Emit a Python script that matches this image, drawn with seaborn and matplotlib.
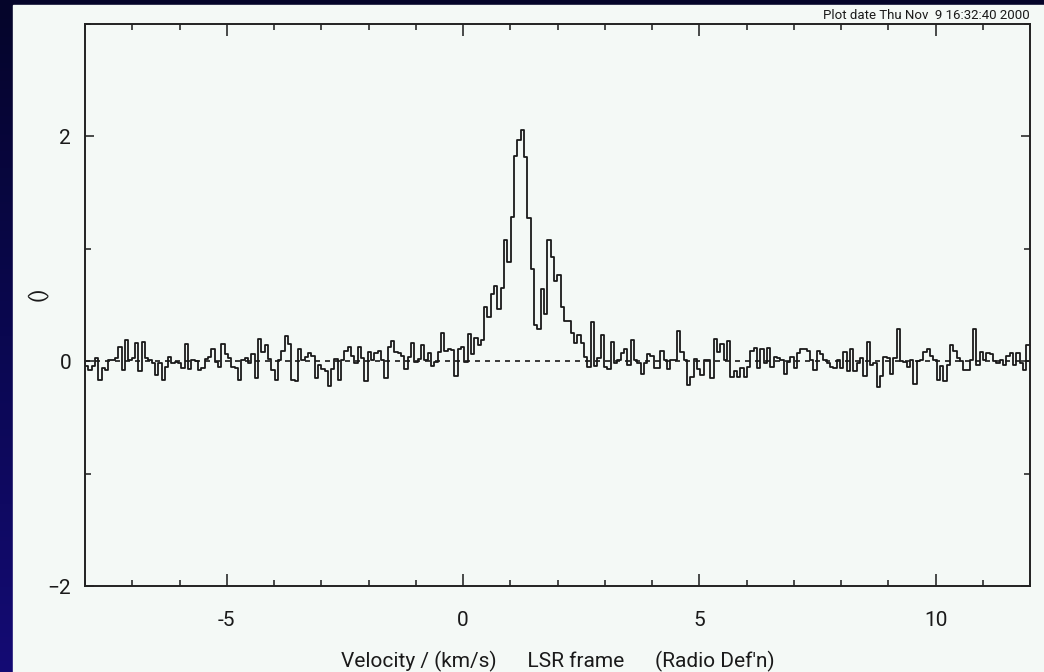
import numpy as np
import pandas as pd
import matplotlib
matplotlib.use("Agg")
import matplotlib.pyplot as plt
import seaborn as sns
from matplotlib.patches import Rectangle
from matplotlib.ticker import MultipleLocator

# spectrum: antenna temperature per channel
v_start = -8.0     # km/s, left edge of first channel
dv = 0.0704        # km/s, channel width

ta_blue_side = [
    -0.04, -0.08, -0.04, 0.03, -0.17, -0.06, -0.08, 0.01, 0.01, 0.03,
    0.13, -0.08, 0.19, 0.01, 0.03, 0.16, -0.09, 0.17, 0.03, 0.01,
    -0.02, -0.12, -0.02, -0.17, -0.05, 0.04, -0.02, -0.01, -0.02, -0.06, 0.15,
    -0.07, 0.01, 0.00, -0.08, -0.06, 0.02, 0.04, 0.11, -0.01, -0.05,
    0.15, 0.06, 0.03, -0.05, -0.06, -0.17, 0.01, 0.03, -0.02, 0.06,
    -0.15, 0.20, 0.08, 0.14, 0.02, -0.08, -0.17, 0.01, 0.09, 0.22,
    0.15, -0.17, -0.18, 0.11, 0.01, 0.04, 0.07, 0.05, -0.15, -0.03,
    -0.07, -0.09, -0.22, -0.07, 0.02, -0.17, 0.01, 0.09, 0.13, 0.05,
    -0.02, 0.13, 0.03, -0.18, 0.08, 0.01, 0.07, 0.09, 0.01,
]
ta_line = [
    -0.15, 0.13, 0.18, 0.08, 0.07, 0.05, -0.07, 0.04, 0.16, -0.01,
    0.02, 0.14, 0.01, 0.07, -0.04, -0.01, 0.08, 0.25, 0.09, 0.11,
    0.10, -0.13, 0.11, 0.13, -0.01, 0.24, 0.06, 0.21, 0.14, 0.19,
    0.48, 0.39, 0.60, 0.67, 0.46, 0.65, 1.08, 0.88, 1.28, 1.83,
    1.97, 2.06, 1.82, 1.27, 0.82, 0.32, 0.29, 0.64, 0.42, 1.08,
    0.93, 0.71, 0.77, 0.48, 0.36, 0.36, 0.25, 0.16, 0.23, 0.16,
    0.04, -0.05, 0.35, -0.04, 0.03, 0.23, -0.05, -0.07, 0.17, -0.02,
    0.01, 0.07, 0.11, -0.03, 0.19, 0.01,
]
ta_red_side = [
    -0.02, -0.11, -0.02, 0.06, 0.05, -0.06, -0.06, 0.09, 0.01, -0.07,
    0.01, 0.01, 0.27, 0.08, 0.01, -0.21, -0.14, 0.02, -0.07, -0.12,
    0.01, 0.01, -0.15, 0.20, 0.08, 0.15, 0.01, 0.18, -0.14, -0.09,
    -0.14, -0.06, -0.14, -0.05, 0.09, 0.12, -0.06, 0.11, -0.02, 0.12,
    -0.05, 0.04, 0.03, 0.01, -0.11, -0.01, 0.04, -0.06, 0.07, 0.11,
    0.11, 0.09, 0.01, -0.08, 0.09, 0.06, 0.01, -0.02, -0.05, -0.06,
    0.01, -0.06, 0.08, -0.09, 0.11, -0.09, -0.02, 0.03, -0.13, 0.17,
    -0.03, -0.02, -0.23, -0.13, 0.04, 0.03, -0.11, 0.03, 0.29, 0.00,
    -0.01, -0.05, 0.01, -0.20, 0.00, 0.01, 0.08, 0.11, 0.05, 0.01,
    -0.17, -0.04, -0.18, -0.03, 0.14, 0.09, 0.03, 0.00, -0.08, -0.08,
    0.01, 0.29, -0.03, 0.08, 0.01, 0.07, 0.06, 0.00, -0.02, 0.01,
    -0.03, 0.05, 0.07, -0.03, 0.07, -0.02, -0.08, 0.14,
]

ta = np.array(ta_blue_side + ta_line + ta_red_side)
edges = v_start + dv * np.arange(len(ta) + 1)
df = pd.DataFrame({"vel": edges, "ta": np.append(ta, ta[-1])})

xticks = [-5, 0, 5, 10]
yticks = [-2, 0, 2]
date_text = "Plot date Thu Nov  9 16:32:40 2000"

sns.set_style("ticks")
plt.rcParams["font.family"] = ["Roboto", "DejaVu Sans"]
ink = "#1a1a1a"

W, H = 1044, 672
fig = plt.figure(figsize=(W / 100, H / 100), dpi=100)

# dark blue gradient background with light panel
bg = fig.add_axes([0, 0, 1, 1], zorder=-5)
grad = np.linspace(0, 1, 256).reshape(-1, 1)
cmap = matplotlib.colors.LinearSegmentedColormap.from_list("bgblue", ["#05052a", "#0a0750", "#140b74"])
bg.imshow(grad, aspect="auto", cmap=cmap, extent=[0, W, H, 0])
panel = "#f4f9f6"
bg.add_patch(Rectangle((13, 5), W - 13, H - 5, color=panel, zorder=2))
bg.set_xlim(0, W)
bg.set_ylim(H, 0)
bg.axis("off")

ax = fig.add_axes([85 / W, 86 / H, 945 / W, 562 / H], zorder=1)
ax.set_facecolor(panel)

ax.axhline(0, color=ink, lw=1.2, ls=(0, (3, 3)), zorder=1)
sns.lineplot(data=df, x="vel", y="ta", drawstyle="steps-post", color=ink,
             lw=1.3, estimator=None, ax=ax, zorder=2)

ax.set_xlim(-8, 12)
ax.set_ylim(-2, 3)
ax.set_xticks(xticks)
ax.xaxis.set_minor_locator(MultipleLocator(1))
ax.set_yticks(yticks)
ax.yaxis.set_minor_locator(MultipleLocator(1))
ax.set_xticklabels([str(t) for t in xticks])
ax.set_yticklabels(["\u22122", "0", "2"])

ax.tick_params(which="both", direction="in", top=True, right=True, colors=ink,
               labelsize=15, width=1.1)
ax.tick_params(axis="x", which="major", length=8.6, pad=18)
ax.tick_params(axis="x", which="minor", length=4.3)
ax.tick_params(axis="y", which="major", length=6.5, pad=10)
ax.tick_params(axis="y", which="minor", length=4.5)
for s in ax.spines.values():
    s.set_linewidth(1.4)
    s.set_color("#222222")

ax.set_xlabel("Velocity / (km/s)      LSR frame      (Radio Def'n)", fontsize=15,
              color=ink)
ax.xaxis.set_label_coords(0.5, -0.116)
ax.set_ylabel("()", fontsize=15, color=ink)
ax.yaxis.set_label_coords(-0.039, 0.52)
ax.text(1.0, 1.003, date_text, transform=ax.transAxes, ha="right", va="bottom",
        fontsize=9.5, color=ink)

fig.savefig("out.png", dpi=100, facecolor="#05052a")
